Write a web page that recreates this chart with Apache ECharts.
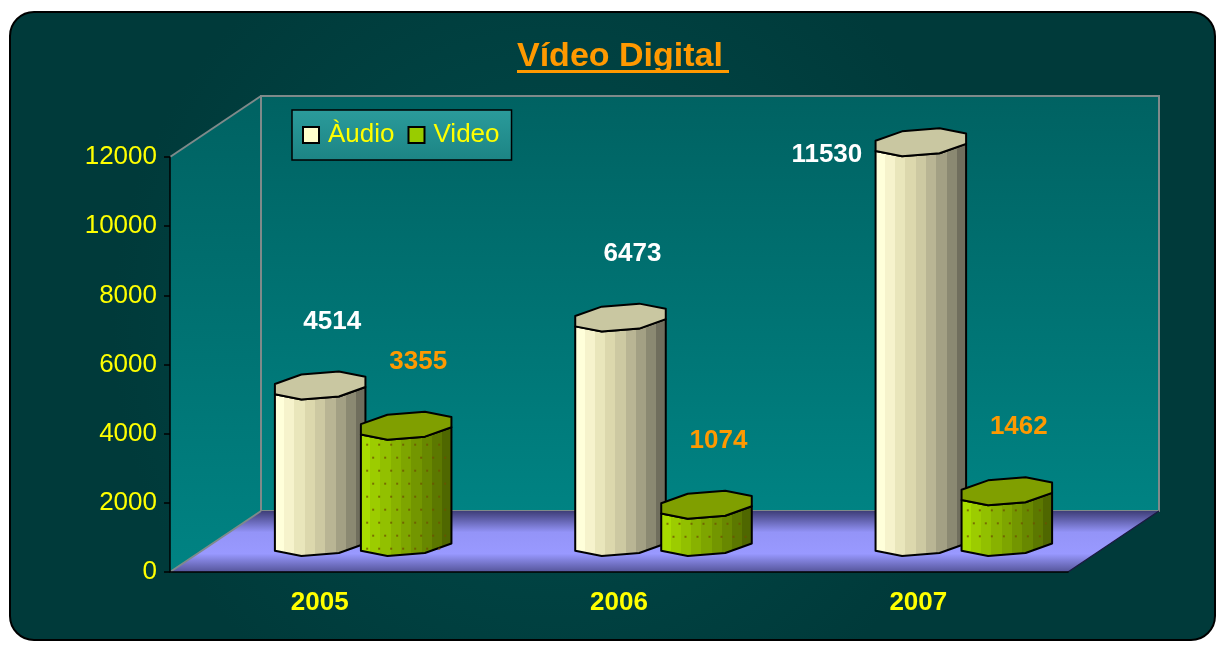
<!DOCTYPE html>
<html>
<head>
<meta charset="utf-8">
<title>Vídeo Digital</title>
<script src="https://cdn.jsdelivr.net/npm/echarts@6/dist/echarts.min.js"></script>
<style>
	html, body { margin: 0; padding: 0; background: #fff; }
	#chart { width: 1221px; height: 647px; }
</style>
</head>
<body>
<div id="chart"></div>
<script>
var years = ['2005', '2006', '2007'];
var audioValues = [4514, 6473, 11530];
var videoValues = [3355, 1074, 1462];
var yTicks = [0, 2000, 4000, 6000, 8000, 10000, 12000];

var FONT = 'Arial, "Liberation Sans", sans-serif';

// caixa de plot frontal + profundidade 3D
var PL = 170, PT = 157, PR = 1068, PB = 572, DX = 91, DY = -61;

function cylinder(shift, colors, topColor, labelColor, dotted){
	return function(params, api){
		var idx = api.value(0), val = api.value(1);
		var base = api.coord([idx, 0]), top = api.coord([idx, val]);
		var cx = base[0] + shift, R = 49, ry = 13.5, tilt = 0.08;
		function pt(cy, a){
			var r = a * Math.PI / 180, dx = R * Math.cos(r);
			return [cx + dx, cy + ry * Math.sin(r) - tilt * dx];
		}
		var stops = [];
		for (var i = 0; i < colors.length; i++){
			stops.push({offset: i / colors.length, color: colors[i]});
			stops.push({offset: (i + 1) / colors.length, color: colors[i]});
		}
		var body = [pt(top[1], 157.5), pt(base[1], 157.5), pt(base[1], 112.5), pt(base[1], 67.5),
			pt(base[1], 22.5), pt(top[1], 22.5), pt(top[1], 67.5), pt(top[1], 112.5)];
		var cap = [];
		for (var k = 0; k < 8; k++) cap.push(pt(top[1], 22.5 + 45 * k));
		var children = [{
			type: 'polygon',
			shape: {points: body},
			style: {fill: new echarts.graphic.LinearGradient(0, 0, 1, 0, stops), stroke: '#000', lineWidth: 2, lineJoin: 'round'}
		}];
		if (dotted){
			var row = 0;
			for (var y = top[1] + 18; y < base[1] + 6; y += 13, row++){
				for (var x = cx - 40 + (row % 2) * 6; x < cx + 42; x += 12){
					children.push({type: 'rect', shape: {x: x, y: y, width: 2, height: 2}, style: {fill: 'rgba(110,80,0,0.75)'}});
				}
			}
		}
		children.push({
			type: 'polygon',
			shape: {points: cap},
			style: {fill: topColor, stroke: '#000', lineWidth: 2, lineJoin: 'round'}
		});
		//label: acima do topo, ou ao lado se não cabe
		var lx = cx + 12, ly = top[1] - 64;
		if (ly < 120){ lx = cx - 94; ly = top[1] + 13; }
		children.push({
			type: 'text',
			style: {text: String(val), x: lx, y: ly, fill: labelColor, font: 'bold 26px ' + FONT, align: 'center', verticalAlign: 'middle'}
		});
		return {type: 'group', children: children};
	};
}

var wallGrad = new echarts.graphic.LinearGradient(0, 0, 0, 1, [
	{offset: 0, color: '#006262'}, {offset: 1, color: '#008383'}
]);
var floorGrad = new echarts.graphic.LinearGradient(0, 0, 0, 1, [
	{offset: 0, color: '#3e3e78'}, {offset: 0.35, color: '#9494f8'},
	{offset: 0.7, color: '#9999ff'}, {offset: 1, color: '#55559a'}
]);

var option = {
	animation: false,
	title: {
		text: 'Vídeo Digital',
		left: 517, top: 40, padding: 0,
		textStyle: {color: '#ff9900', fontWeight: 'bold', fontSize: 34, fontFamily: FONT}
	},
	legend: {
		left: 292, top: 110,
		padding: [12, 12, 12, 10],
		itemWidth: 16, itemHeight: 16, itemGap: 13,
		icon: 'rect',
		backgroundColor: new echarts.graphic.LinearGradient(0, 0, 0, 1, [
			{offset: 0, color: '#2b9b9b'}, {offset: 1, color: '#1c8484'}
		]),
		borderColor: '#000', borderWidth: 1.5,
		textStyle: {color: '#ffff00', fontSize: 26, fontFamily: FONT, padding: [0, 0, 0, 4]},
		data: ['Àudio', 'Video']
	},
	graphic: [
		{type: 'rect', z: -10, shape: {x: 10, y: 12, width: 1205, height: 628, r: 24},
			style: {fill: new echarts.graphic.RadialGradient(0.45, 0.5, 0.7, [
				{offset: 0, color: '#004c4c'}, {offset: 1, color: '#003a3a'}
			]), stroke: '#000', lineWidth: 2}},
		{type: 'polygon', z: -9, shape: {points: [[PL, PT], [PL + DX, PT + DY], [PL + DX, PB + DY], [PL, PB]]},
			style: {fill: wallGrad}},
		{type: 'rect', z: -9, shape: {x: PL + DX, y: PT + DY, width: PR - PL, height: PB - PT},
			style: {fill: wallGrad, stroke: '#7f8a8a', lineWidth: 2}},
		{type: 'polyline', z: -8, shape: {points: [[PL, PT], [PL + DX, PT + DY]]},
			style: {stroke: '#7f8a8a', lineWidth: 2}},
		{type: 'polygon', z: -8, shape: {points: [[PL, PB], [PL + DX, PB + DY], [PR + DX, PB + DY], [PR, PB]]},
			style: {fill: floorGrad}},
		{type: 'polyline', z: -7, shape: {points: [[PL, PB], [PL + DX, PB + DY]]},
			style: {stroke: '#7f8a8a', lineWidth: 2}},
		{type: 'polyline', z: -7, shape: {points: [[PR, PB], [PR + DX, PB + DY]]},
			style: {stroke: '#1a1a40', lineWidth: 1.5}},
		// sublinhado do titulo
		{type: 'rect', z: 5, shape: {x: 517, y: 70, width: 212, height: 3}, style: {fill: '#ff9900'}}
	],
	grid: [
		{left: PL, top: PT, right: 1221 - PR, bottom: 647 - PB},
		{left: 213, top: 126, right: 107, bottom: 105}
	],
	xAxis: [{
		gridIndex: 0, type: 'category', data: years, z: 3,
		axisLine: {lineStyle: {color: '#000', width: 1.5}},
		axisTick: {length: 10, lineStyle: {color: '#000', width: 1.5}},
		axisLabel: {color: '#ffff00', fontSize: 26, fontWeight: 'bold', fontFamily: FONT, margin: 18}
	}, {
		gridIndex: 1, type: 'category', data: years, show: false
	}],
	yAxis: [{
		gridIndex: 0, type: 'value', min: 0, max: yTicks[yTicks.length - 1], interval: yTicks[1] - yTicks[0], z: 3,
		axisLine: {show: true, lineStyle: {color: '#000', width: 1.5}},
		axisTick: {show: true, length: 6, lineStyle: {color: '#000', width: 1.5}},
		splitLine: {show: false},
		axisLabel: {color: '#ffff00', fontSize: 26, fontFamily: FONT, margin: 13,
			formatter: function(v){ return String(v); }}
	}, {
		gridIndex: 1, type: 'value', min: 0, max: yTicks[yTicks.length - 1], show: false
	}],
	series: [{
		name: 'Àudio', type: 'custom', xAxisIndex: 1, yAxisIndex: 1, clip: false,
		itemStyle: {color: '#ffffcc', borderColor: '#000', borderWidth: 2},
		renderItem: cylinder(-43,
			['#ffffda', '#f6f3cc', '#e9e6bb', '#dcd8ad', '#cdc9a2', '#b9b594', '#a3a084', '#8b8972', '#706e5d'],
			'#c9c7a1', '#ffffff', false),
		data: audioValues.map(function(v, i){ return [i, v]; })
	}, {
		name: 'Video', type: 'custom', xAxisIndex: 1, yAxisIndex: 1, clip: false,
		itemStyle: {color: '#99cc00', borderColor: '#000', borderWidth: 2},
		renderItem: cylinder(43,
			['#a8dc00', '#9ccc00', '#92c000', '#88b200', '#7ea500', '#739600', '#688800', '#5c7800', '#4f6700'],
			'#809f00', '#ff9900', true),
		data: videoValues.map(function(v, i){ return [i, v]; })
	}]
};

var myChart = echarts.init(document.getElementById('chart'));
myChart.setOption(option);
</script>
</body>
</html>
